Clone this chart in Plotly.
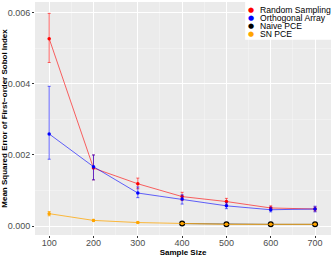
import plotly.graph_objects as go

sample_size = [100, 200, 300, 400, 500, 600, 700]

random_mse = [0.00527, 0.00163, 0.00119, 0.00083, 0.00069, 0.00051, 0.00048]
random_lo = [0.00460, 0.00130, 0.00105, 0.00072, 0.00060, 0.00045, 0.00042]
random_hi = [0.00598, 0.00200, 0.00135, 0.00095, 0.00078, 0.00057, 0.00054]

ortho_mse = [0.00259, 0.00167, 0.00093, 0.00076, 0.00057, 0.00046, 0.00048]
ortho_lo = [0.00188, 0.00130, 0.00080, 0.00062, 0.00049, 0.00040, 0.00040]
ortho_hi = [0.00393, 0.00200, 0.00110, 0.00088, 0.00065, 0.00053, 0.00056]

naive_x = [400, 500, 600, 700]
naive_mse = [0.00007, 0.00005, 0.00005, 0.00005]

sn_mse = [0.00035, 0.00016, 0.00010, 0.00007, 0.00005, 0.00005, 0.00005]
sn_lo = [0.00029, 0.00013, 0.00008, 0.00006, 0.00004, 0.00004, 0.00004]
sn_hi = [0.00041, 0.00019, 0.00012, 0.00008, 0.00006, 0.00006, 0.00006]

legend_names = ["Random Sampling", "Orthogonal Array", "Naive PCE", "SN PCE"]
y_tick_vals = [0, 0.002, 0.004, 0.006]
y_tick_text = ["0.000", "0.002", "0.004", "0.006"]

series = [
    ("Random Sampling", "rgba(255,0,0,0.6)", "red", sample_size, random_mse, random_lo, random_hi),
    ("Orthogonal Array", "rgba(0,0,255,0.6)", "blue", sample_size, ortho_mse, ortho_lo, ortho_hi),
    ("Naive PCE", "rgba(0,0,0,0.55)", "black", naive_x, naive_mse, None, None),
    ("SN PCE", "rgba(255,165,0,0.75)", "orange", sample_size, sn_mse, sn_lo, sn_hi),
]
legend_colors = ["red", "blue", "black", "orange"]

W, H = 332, 257
L, R, T, B = 34.5, 331, 1.6, 235

fig = go.Figure()
for name, lc, mc, xs, ys, lo, hi in series:
    err = None
    if lo is not None:
        err = dict(type="data", symmetric=False,
                   array=[h - y for h, y in zip(hi, ys)],
                   arrayminus=[y - l for y, l in zip(ys, lo)],
                   color=lc, thickness=1, width=1.5)
    msize = 6 if name == "Naive PCE" else 3.5
    fig.add_trace(go.Scatter(
        x=xs, y=ys, name=name, mode="lines+markers",
        line=dict(color=lc, width=1),
        marker=dict(color=mc, size=msize, symbol="circle"),
        error_y=err, showlegend=False, hoverinfo="skip",
    ))


def px2paper_x(px):
    return (px - L) / (R - L)


def px2paper_y(py):
    return (B - py) / (B - T)


shapes = [dict(type="rect", xref="paper", yref="paper",
               x0=px2paper_x(245), x1=px2paper_x(333),
               y0=px2paper_y(39.5), y1=px2paper_y(-1),
               fillcolor="white", line=dict(width=0), layer="above")]
annotations = []
item_y = [10, 18, 25.8, 33.5]
for nm, col, py in zip(legend_names, legend_colors, item_y):
    annotations.append(dict(x=px2paper_x(251), y=px2paper_y(py), xref="paper", yref="paper",
                            text="\u25cf", showarrow=False, xanchor="center", yanchor="middle",
                            font=dict(size=7, color=col, family="DejaVu Sans")))
    annotations.append(dict(x=px2paper_x(257.5), y=px2paper_y(py), xref="paper", yref="paper",
                            text=nm, showarrow=False, xanchor="left", yanchor="middle",
                            font=dict(size=8.6, color="black",
                                      family="Liberation Sans, Arial, sans-serif")))

fig.update_layout(
    width=W, height=H,
    margin=dict(l=L, r=W - R, t=T, b=H - B, pad=0, autoexpand=False),
    paper_bgcolor="white", plot_bgcolor="#EBEBEB",
    font=dict(family="Liberation Sans, Arial, sans-serif", size=9, color="#4D4D4D"),
    showlegend=False, hovermode=False,
    shapes=shapes, annotations=annotations,
    xaxis=dict(range=[68, 736], tickvals=sample_size, showgrid=True, gridcolor="white",
               gridwidth=1, zeroline=False, ticks="outside", ticklen=2,
               tickcolor="#333333", tickfont=dict(size=9, color="#4D4D4D"),
               automargin=False, ticklabelstandoff=-3,
               minor=dict(tickvals=[150, 250, 350, 450, 550, 650], showgrid=True,
                          gridcolor="rgba(255,255,255,0.6)", gridwidth=0.5, ticks=""),
               title=dict(text="<b>Sample Size</b>", font=dict(size=8, color="black"), standoff=3)),
    yaxis=dict(range=[-0.00025, 0.00630], tickvals=y_tick_vals, ticktext=y_tick_text,
               showgrid=True, gridcolor="white", gridwidth=1, zeroline=False,
               ticks="outside", ticklen=2, tickcolor="#333333",
               tickfont=dict(size=9, color="#4D4D4D"), automargin=False,
               minor=dict(tickvals=[0.001, 0.003, 0.005], showgrid=True,
                          gridcolor="rgba(255,255,255,0.6)", gridwidth=0.5, ticks=""),
               title=dict(text="<b>Mean Squared Error of First\u2212order Sobol Index</b>",
                          font=dict(size=8, color="black"), standoff=1)),
)

fig.write_html("out.html", config={"displayModeBar": False, "staticPlot": True},
               post_script="document.body.style.margin='0';document.body.style.overflow='hidden';")
